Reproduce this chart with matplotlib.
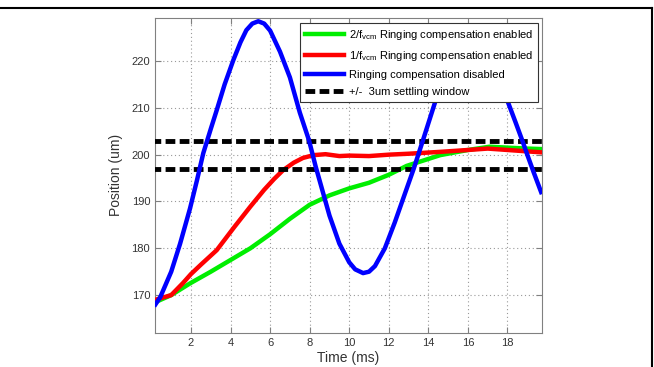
import matplotlib.pyplot as plt
from matplotlib.lines import Line2D

# step response of the lens actuator, position in um vs time in ms
t_blue = [0.2, 0.45, 1.0, 1.45, 1.95, 2.3, 2.62, 3.0, 3.3, 3.7, 4.14, 4.5, 4.8, 5.1, 5.4,
          5.7, 6.0, 6.5, 7.0, 7.5, 7.97, 8.3, 8.6, 9.0, 9.5, 10.0, 10.3, 10.7, 11.0,
          11.3, 11.8, 12.3, 12.8, 13.26, 13.72, 14.4, 15.0, 15.6, 16.2, 16.8, 17.4, 17.9,
          18.4, 18.75, 19.0, 19.3, 19.7]
pos_blue = [168, 169.6, 175, 181, 188.5, 194.5, 200.3, 205.5, 209.5, 215, 220.2, 224,
            226.6, 228, 228.5, 228, 226.5, 222, 216.5, 209, 203, 197.5, 193, 187, 181,
            177, 175.5, 174.7, 175, 176.2, 180, 185.5, 191.5, 197, 203, 212, 218, 221,
            222, 220.5, 216.5, 212.6, 207, 203, 200, 196.5, 192]

t_red = [0.2, 1.0, 1.6, 2.0, 2.5, 3.3, 4.2, 5.0, 5.7, 6.2, 6.66, 7.2, 7.66, 8.2, 8.8,
         9.5, 10.0, 11.0, 12.0, 13.0, 14.6, 16.0, 17.0, 18.0, 19.0, 19.7]
pos_red = [169, 170, 172.6, 174.5, 176.5, 179.6, 184.6, 188.9, 192.5, 194.8, 196.7,
           198.3, 199.3, 199.9, 200.1, 199.7, 199.8, 199.7, 200, 200.2, 200.6, 201, 201.3,
           201, 200.7, 200.5]

t_green = [0.2, 1.0, 1.95, 3.0, 4.0, 5.0, 6.0, 7.0, 8.0, 9.0, 10.0, 11.0, 12.0, 12.9,
           14.6, 16.0, 17.1, 18.0, 19.0, 19.7]
pos_green = [168.5, 170, 172.5, 175, 177.5, 180, 183, 186.3, 189.3, 191.3, 192.8, 194,
             195.7, 197.6, 199.9, 201, 201.7, 201.5, 201.3, 201.2]

window = [197, 203]

labels = [r'2/f$_{\mathrm{vcm}}$ Ringing compensation enabled',
          r'1/f$_{\mathrm{vcm}}$ Ringing compensation enabled',
          'Ringing compensation disabled',
          '+/-  3um settling window']

plt.rcParams['font.family'] = ['Liberation Sans', 'DejaVu Sans']
plt.rcParams['mathtext.fontset'] = 'custom'
plt.rcParams['mathtext.rm'] = 'Liberation Sans'

fig = plt.figure(figsize=(6.54, 3.67), dpi=100)
ax = fig.add_axes([0.237, 0.0926, 0.591, 0.8597])

gline, = ax.plot(t_green, pos_green, color='#00ee00', lw=3.2, zorder=2)
rline, = ax.plot(t_red, pos_red, color='#ff0000', lw=3.2, zorder=3)
for w in window:
    dline, = ax.plot([0, 20], [w, w], color='black', lw=3.5, dashes=(2.0, 0.9), zorder=4)
bline, = ax.plot(t_blue, pos_blue, color='#0000ff', lw=3.2, zorder=5)

ax.set_xlim(0.18, 19.72)
ax.set_ylim(161.9, 229.3)
ax.set_xticks(range(2, 20, 2))
ax.set_yticks(range(170, 230, 10))
ax.grid(True, linestyle=(0, (1, 2.5)), color='#999999', lw=0.8)
ax.tick_params(direction='in', top=True, right=True, labelsize=8,
               colors='#808080', labelcolor='#333333', length=4)
for s in ax.spines.values():
    s.set_color('#808080')
ax.set_xlabel('Time (ms)', fontsize=10, color='#333333', labelpad=2)
ax.set_ylabel('Position (um)', fontsize=10, color='#333333', labelpad=6)

leg = ax.legend([gline, rline, bline, dline], labels, loc='upper right',
                bbox_to_anchor=(0.991, 0.983), borderaxespad=0, fontsize=8,
                fancybox=False, framealpha=1, edgecolor='#333333', handlelength=3.5,
                labelspacing=0.62, borderpad=0.45, handletextpad=0.4)
leg.get_frame().set_linewidth(0.8)
leg.set_zorder(10)

# outer frame: top edge and right edge of the figure
fig.add_artist(Line2D([0, 652 / 654], [1 - 8 / 367, 1 - 8 / 367], color='black', lw=1.5,
                      transform=fig.transFigure))
fig.add_artist(Line2D([652 / 654, 652 / 654], [1 - 8 / 367, 0], color='black', lw=1.5,
                      transform=fig.transFigure))

fig.savefig('out.png', dpi=100)
